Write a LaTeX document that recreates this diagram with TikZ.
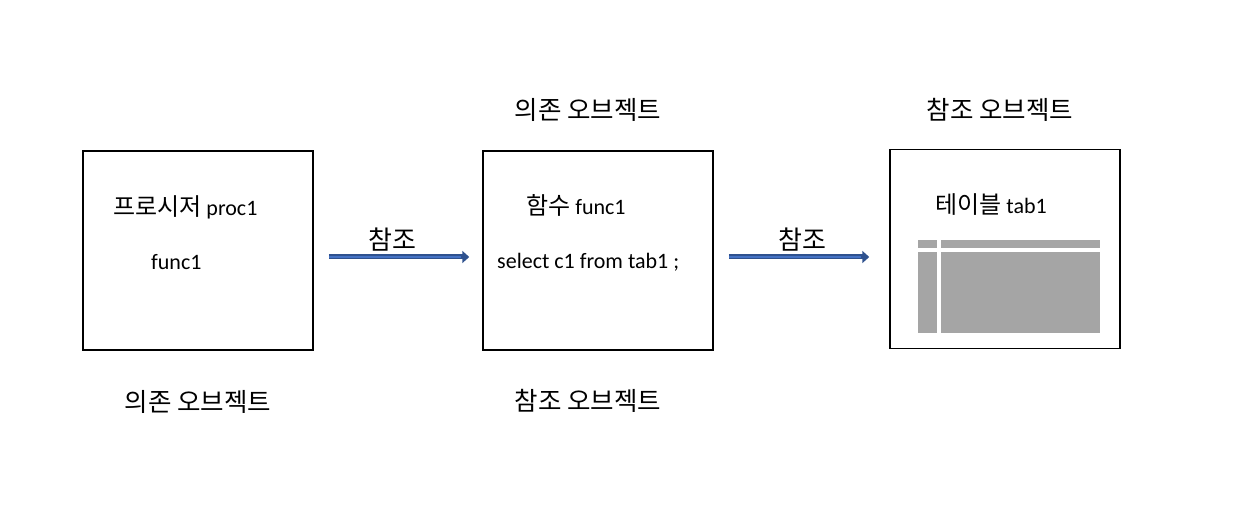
\documentclass[tikz,border=0pt]{standalone}
\usepackage{fontspec}
\setmainfont{Carlito}
\newfontfamily\ko{Noto Sans CJK KR}
\newcommand\kobig[1]{{\fontsize{24}{28}\selectfont\ko #1}}
\usetikzlibrary{arrows.meta}
\definecolor{arrowdark}{HTML}{2F528F}
\definecolor{arrowfill}{HTML}{4472C4}
\definecolor{tabgray}{HTML}{A5A5A5}
\tikzset{
  objbox/.style={draw=black, line width=1.5pt, minimum width=230pt, minimum height=199pt},
  txt/.style={inner sep=0pt, font=\fontsize{22}{26}\selectfont},
  title/.style={inner sep=0pt, font=\fontsize{25.5}{30}\selectfont\ko},
  reflabel/.style={inner sep=0pt, font=\fontsize{26}{30}\selectfont\ko},
  refarrow/.style={line width=5pt, draw=arrowdark, -{Triangle[length=7pt,width=12pt]}},
  refinner/.style={line width=2pt, draw=arrowfill}
}
\begin{document}
\begin{tikzpicture}[x=1pt,y=-1pt]
\useasboundingbox (0,0) rectangle (1250,518);
\node[objbox] (proc) at (198,250.5) {};
\node[objbox] (func) at (598,250.5) {};
\node[objbox] (tab) at (1005,249) {};
% labels in the boxes
\node[txt, anchor=west] (proctxt) at (113,207) {\kobig{프로시저} proc1};
\node[txt, anchor=west] (proccall) at (151,262) {func1};
\node[txt, anchor=west] (functxt) at (526,205) {\kobig{함수} func1};
\node[txt, anchor=west] (funcsql) at (497,262) {select c1 from tab1 ;};
\node[txt, anchor=west] (tabtxt) at (935,205) {\kobig{테이블} tab1};
% labels round the boxes
\node[title] (procdep) at (198,402) {의존 오브젝트};
\node[title] (funcdep) at (588,110) {의존 오브젝트};
\node[title] (funcref) at (588,401) {참조 오브젝트};
\node[title] (tabref) at (1000,110) {참조 오브젝트};
% arrows
\coordinate (a1s) at ([shift={(15,6.5)}]proc.east);
\coordinate (a1e) at ([shift={(-13,6.5)}]func.west);
\coordinate (a2s) at ([shift={(15,6.5)}]func.east);
\coordinate (a2e) at ([shift={(-20,8)}]tab.west);
\draw[refarrow] (a1s) -- (a1e);
\draw[refinner] (a1s) -- ([xshift=-8pt]a1e);
\draw[refarrow] (a2s) -- (a2e);
\draw[refinner] (a2s) -- ([xshift=-8pt]a2e);
\node[reflabel] (ref1) at (392,240) {참조};
\node[reflabel] (ref2) at (802,240) {참조};
% table picture
\fill[tabgray] (918,240) rectangle (937,248);
\fill[tabgray] (941,240) rectangle (1100,248);
\fill[tabgray] (918,252) rectangle (937,333);
\fill[tabgray] (941,252) rectangle (1100,333);
\end{tikzpicture}
\end{document}
